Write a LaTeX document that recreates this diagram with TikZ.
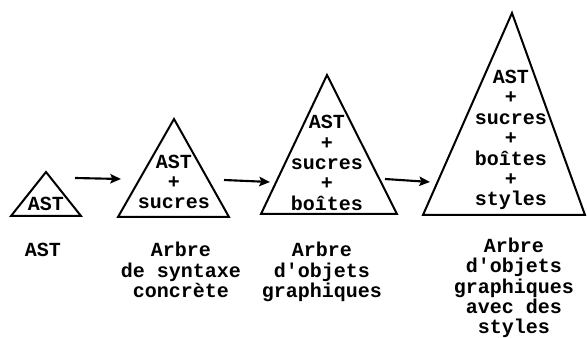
\documentclass[tikz,border=0pt]{standalone}
\usepackage{fontspec}
\setmonofont{Liberation Mono}
\usepackage{tikz}
\usetikzlibrary{arrows.meta, positioning}

\tikzset{
	treetext/.style={font=\ttfamily\bfseries\fontsize{15}{15.3}\selectfont, align=center, inner sep=0pt},
	treeline/.style={line width=1.5pt, line join=miter}
}

\begin{document}
\begin{tikzpicture}[x=0.75pt, y=-0.75pt,
				>={Stealth[length=8pt, width=7pt, inset=1.5pt]},
				line width=1.6pt]
				\useasboundingbox (0,0) rectangle (587,338);
				% triangles
				\coordinate (t1top) at (46,172);
				\coordinate (t1l) at (11,216);
				\coordinate (t1r) at (81,216);
				\coordinate (t2top) at (174,119);
				\coordinate (t2l) at (118,217);
				\coordinate (t2r) at (229,217);
				\coordinate (t3top) at (327,75);
				\coordinate (t3l) at (261,214);
				\coordinate (t3r) at (397,214);
				\coordinate (t4top) at (512,13);
				\coordinate (t4l) at (423,215);
				\coordinate (t4r) at (585,215);
				\draw[treeline] (t1top) -- (t1l) -- (t1r) -- cycle;
				\draw[treeline] (t2top) -- (t2l) -- (t2r) -- cycle;
				\draw[treeline] (t3top) -- (t3l) -- (t3r) -- cycle;
				\draw[treeline] (t4top) -- (t4l) -- (t4r) -- cycle;
				% contents
				\node at (46,204) (ast) [treetext] {AST};
				\node at (174,182) (sucres) [treetext] {AST\\+\\sucres};
				\node at (327,163) (boites) [treetext] {AST\\+\\sucres\\+\\boîtes};
				\node at (511,140) (styles) [treetext] {AST\\+\\sucres\\+\\boîtes\\+\\styles};
				% captions
				\node at (43,250) (astlabel) [treetext] {AST};
				\node at (181,270) (sucreslabel) [treetext] {Arbre\\de syntaxe\\concrète};
				\node at (322,272) (boiteslabel) [treetext] {Arbre\\d'objets\\graphiques};
				\node at (514,288) (styleslabel) [treetext] {Arbre\\d'objets\\graphiques\\avec des\\styles};
				% arrows
				\coordinate (a1s) at (75,178);
				\coordinate (a1e) at (121,179);
				\coordinate (a2s) at (224,180);
				\coordinate (a2e) at (270,182);
				\coordinate (a3s) at (385,179);
				\coordinate (a3e) at (430,182);
				\draw[->, black] (a1s) -- (a1e);
				\draw[->, black] (a2s) -- (a2e);
				\draw[->, black] (a3s) -- (a3e);
			\end{tikzpicture}
\end{document}
